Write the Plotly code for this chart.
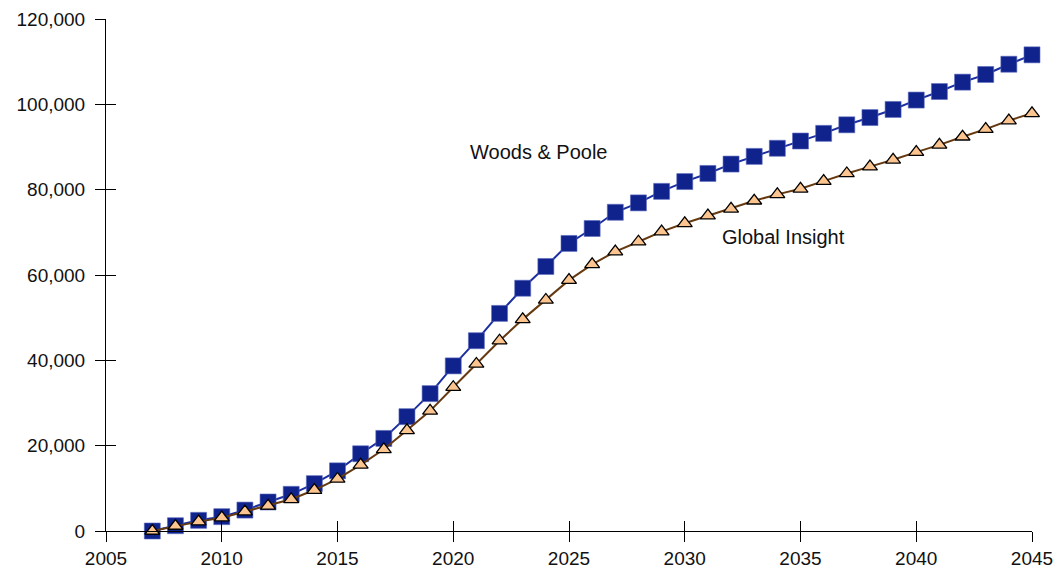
import plotly.graph_objects as go

years = list(range(2007, 2046))

woods_poole = [0, 1240, 2500, 3360, 4900, 6800, 8600, 11100, 14100, 18100,
               21700, 26800, 32200, 38700, 44600, 51000, 56900, 62000, 67400, 70900,
               74700, 76900, 79600, 81900, 83800, 86000, 87800, 89700, 91400, 93200,
               95200, 96900, 98800, 101000, 103000, 105200, 107000, 109400, 111600]

global_insight = [0, 1170, 2200, 3120, 4530, 5900, 7430, 9600, 12200, 15500,
                  19150, 23600, 28150, 33700, 39150, 44600, 49600, 54150, 58800, 62500,
                  65500, 67800, 70160, 72120, 73900, 75500, 77400, 78900, 80200, 82000,
                  83800, 85400, 87000, 88800, 90500, 92400, 94200, 96200, 97900]

x_ticks = [2005, 2010, 2015, 2020, 2025, 2030, 2035, 2040, 2045]
y_ticks = [0, 20000, 40000, 60000, 80000, 100000, 120000]

FONT = "Liberation Sans Narrow, Arial Narrow, Liberation Sans, Arial, sans-serif"
TXT = "#111111"

fig = go.Figure()

fig.add_trace(go.Scatter(
    x=years, y=woods_poole, mode="lines+markers", name="Woods & Poole",
    line=dict(color="#1c2fa0", width=2),
    marker=dict(symbol="square", size=16, color="#10228c",
                line=dict(color="#5d6cc0", width=0.6)),
    cliponaxis=False,
))
fig.add_trace(go.Scatter(
    x=years, y=global_insight, mode="lines+markers", name="Global Insight",
    line=dict(color="#663a10", width=2),
    marker=dict(symbol="triangle-up", size=13, color="#fcc48e",
                line=dict(color="#000000", width=1.3)),
    cliponaxis=False,
))

axis_common = dict(showgrid=False, zeroline=False, color="#000000", automargin=False)

fig.update_layout(
    width=1064, height=577,
    margin=dict(l=106, r=32, t=19, b=46),
    paper_bgcolor="white", plot_bgcolor="white",
    showlegend=False,
    font=dict(family=FONT, size=19, color=TXT),
    xaxis=dict(range=[2005, 2045], tickvals=x_ticks, ticks="outside", ticklen=10,
               tickwidth=1, tickcolor="#000000", showline=True, linecolor="#000000",
               linewidth=1, tickfont=dict(family=FONT, size=19, color=TXT),
               **axis_common),
    yaxis=dict(range=[0, 120000], tickvals=y_ticks, tickformat=",d", ticks="outside",
               ticklen=10, tickwidth=1, tickcolor="#000000", showline=True,
               linecolor="#000000", linewidth=1,
               tickfont=dict(family=FONT, size=19, color=TXT),
               ticklabelstandoff=6, **axis_common),
    xaxis2=dict(range=[2005, 2045], tickvals=x_ticks, ticks="inside", ticklen=10,
                tickwidth=1, tickcolor="#000000", showticklabels=False,
                overlaying="x", anchor="y", side="bottom", **axis_common),
    yaxis2=dict(range=[0, 120000], tickvals=y_ticks, ticks="inside", ticklen=10,
                tickwidth=1, tickcolor="#000000", showticklabels=False,
                overlaying="y", anchor="x", side="left", **axis_common),
)

# invisible trace to activate the secondary (inside-tick) axes
fig.add_trace(go.Scatter(x=[2005], y=[0], xaxis="x2", yaxis="y2", mode="markers",
                         marker=dict(opacity=0), hoverinfo="skip", showlegend=False))

fig.add_annotation(x=2023.7, y=88800, text="Woods & Poole", showarrow=False,
                   font=dict(family=FONT, size=20, color=TXT))
fig.add_annotation(x=2034.25, y=68900, text="Global Insight", showarrow=False,
                   font=dict(family=FONT, size=20, color=TXT))

fig.write_html("out.html")
